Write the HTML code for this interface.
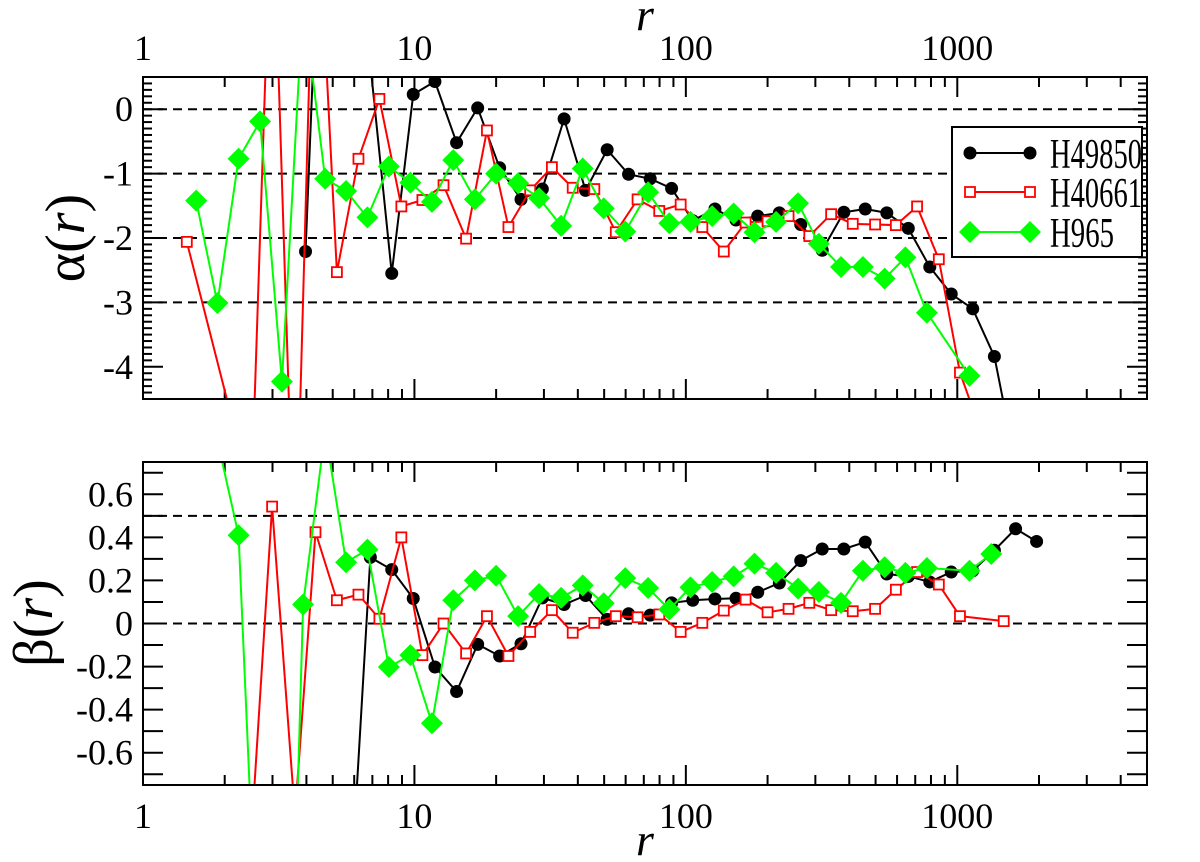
<!DOCTYPE html>
<html><head><meta charset="utf-8"><title>alpha beta profiles</title>
<style>
html,body{margin:0;padding:0;background:#fff;width:1200px;height:862px;overflow:hidden;}
svg{display:block;}
text{font-family:"Liberation Serif","Times New Roman",Times,"DejaVu Serif",serif;}
</style></head>
<body>
<svg id="chart" width="1200" height="862" viewBox="0 0 1200 862" xmlns="http://www.w3.org/2000/svg">
<defs>
<clipPath id="clipA"><rect x="143" y="77" width="1004" height="322"/></clipPath>
<clipPath id="clipB"><rect x="143" y="462" width="1004" height="323"/></clipPath>
</defs>
<rect width="1200" height="862" fill="#fff"/>
<g id="gridA"></g>
<g id="gridB"></g>
<g id="ticks"></g>
<g id="seriesA" clip-path="url(#clipA)"></g>
<g id="seriesB" clip-path="url(#clipB)"></g>
<rect x="143" y="77" width="1004" height="322" fill="none" stroke="#000" stroke-width="2"/>
<rect x="143" y="462" width="1004" height="323" fill="none" stroke="#000" stroke-width="2"/>
<g id="labels"></g>
<text class="t" x="645" y="30" font-size="46" font-style="italic" text-anchor="middle">r</text>
<text class="t" x="645" y="855" font-size="46" font-style="italic" text-anchor="middle">r</text>
<text class="t" transform="translate(84,238) rotate(-90)" font-size="56" text-anchor="middle">α(<tspan font-style="italic">r</tspan>)</text>
<text class="t" transform="translate(52,623) rotate(-90)" font-size="56" text-anchor="middle">β(<tspan font-style="italic">r</tspan>)</text>
<g id="legend">
<rect x="952" y="127" width="190" height="130" fill="#fff" stroke="#000" stroke-width="2"/>
</g>
</svg>
<script>
// ---- data ----
const blackR = [3.97,4.77,5.73,6.88,8.25,9.9,11.9,14.3,17.1,20.6,24.7,29.6,35.6,42.7,51.3,61.5,73.9,88.6,106,128,153,184,221,265,318,382,458,550,660,792,950,1140,1370,1640,1960];
const blackAlpha = [-2.21,6,4,0.7,-2.55,0.23,0.43,-0.52,0.02,-0.91,-1.40,-1.24,-0.15,-1.26,-0.63,-1.01,-1.08,-1.23,-1.73,-1.55,-1.72,-1.66,-1.61,-1.79,-2.19,-1.60,-1.55,-1.61,-1.85,-2.45,-2.87,-3.10,-3.84,-5.5,null];
const blackBeta = [-3,-3,-1.4,0.307,0.25,0.116,-0.202,-0.316,-0.097,-0.151,-0.094,0.119,0.088,0.130,0.019,0.045,0.039,0.096,0.108,0.114,0.117,0.145,0.188,0.292,0.346,0.346,0.378,0.230,0.219,0.193,0.239,0.245,0.34,0.44,0.381];

const redR = [1.45,2.51,2.99,3.63,4.32,5.18,6.22,7.43,8.95,10.7,12.8,15.5,18.5,22.2,26.7,32.1,38.3,46.0,55.2,66.4,79.8,95.7,115,138,166,200,239,285,343,412,498,594,711,855,1023,1483];
const redAlpha = [-2.06,-6,3.7,-7.5,4,-2.53,-0.77,0.16,-1.51,-1.41,-1.18,-2.01,-0.33,-1.83,-1.26,-0.90,-1.22,-1.24,-1.91,-1.40,-1.58,-1.48,-1.83,-2.21,-1.76,-1.74,-1.66,-1.97,-1.63,-1.78,-1.79,-1.80,-1.51,-2.33,-4.09,-6];
const redBeta = [-1.5,-0.97,0.543,-0.89,0.424,0.108,0.134,0.022,0.40,-0.147,0.0,-0.139,0.034,-0.151,-0.039,0.062,-0.043,0.003,0.034,0.029,0.042,-0.039,0.003,0.060,0.111,0.052,0.068,0.096,0.062,0.057,0.068,0.157,0.239,0.181,0.034,0.011];

const greenR = [1.57,1.88,2.25,2.70,3.25,3.89,4.69,5.60,6.71,8.05,9.66,11.6,13.9,16.7,20.0,24.1,28.8,34.7,41.7,49.8,59.8,72.6,86.9,104,125,150,179,215,259,309,373,449,540,644,773,1109,1334];
const greenAlpha = [-1.42,-3.01,-0.77,-0.19,-4.23,1.7,-1.08,-1.27,-1.68,-0.89,-1.14,-1.44,-0.79,-1.40,-1.00,-1.15,-1.38,-1.81,-0.92,-1.54,-1.90,-1.29,-1.77,-1.75,-1.66,-1.62,-1.91,-1.75,-1.46,-2.09,-2.45,-2.45,-2.63,-2.30,-3.16,-4.14,null];
const greenBeta = [1.5,0.85,0.41,-1.87,-3.3,0.088,0.895,0.284,0.343,-0.202,-0.147,-0.463,0.108,0.20,0.222,0.034,0.137,0.119,0.177,0.094,0.211,0.165,0.065,0.168,0.193,0.219,0.278,0.235,0.162,0.147,0.096,0.245,0.261,0.235,0.258,0.245,0.323];

const xTickValues = [1,10,100,1000];
const xTickLabels = ["1","10","100","1000"];
const alphaTickValues = [0,-1,-2,-3,-4];
const alphaTickLabels = ["0","-1","-2","-3","-4"];
const betaTickValues = [0.6,0.4,0.2,0,-0.2,-0.4,-0.6];
const betaTickLabels = ["0.6","0.4","0.2","0","-0.2","-0.4","-0.6"];
const alphaRefLines = [0,-1,-2,-3];
const betaRefLines = [0.5,0];
const seriesNames = ["H49850","H40661","H965"];

// ---- axes ----
const X0=143, X1=1147, XMAX=5000;
const AT=77, AB=399, AMAX=0.5, AMIN=-4.5;
const BT=462, BB=785, BMAX=0.75, BMIN=-0.75;
function xs(r){return X0+Math.log10(r)/Math.log10(XMAX)*(X1-X0);}
function yA(v){return AT+(AMAX-v)/(AMAX-AMIN)*(AB-AT);}
function yB(v){return BT+(BMAX-v)/(BMAX-BMIN)*(BB-BT);}

const SERIF='"Liberation Serif","Times New Roman",Times,"DejaVu Serif",serif';
const NS="http://www.w3.org/2000/svg";
function mk(tag,attrs,parent){const e=document.createElementNS(NS,tag);for(const k in attrs)e.setAttribute(k,attrs[k]);parent.appendChild(e);return e;}
document.querySelectorAll('text.t').forEach(t=>{t.style.fontFamily=SERIF;});

const gA=document.getElementById('gridA'), gB=document.getElementById('gridB');
alphaRefLines.forEach(v=>{
  const l=mk('line',{x1:X0,x2:X1,y1:yA(v),y2:yA(v),stroke:'#000','stroke-width':2,'stroke-dasharray':'9,6'},gA);
  
  
});
betaRefLines.forEach(v=>{
  const l=mk('line',{x1:X0,x2:X1,y1:yB(v),y2:yB(v),stroke:'#000','stroke-width':2,'stroke-dasharray':'9,6'},gB);
  
  
});

const gT=document.getElementById('ticks');
function tick(x1,y1,x2,y2){
  const l=mk('line',{x1:x1,y1:y1,x2:x2,y2:y2,stroke:'#000','stroke-width':2},gT);
  
  
}
for(let d=1; d<=1000; d*=10){
  for(let m=1;m<=9;m++){
    const r=d*m; if(r>XMAX) break;
    const x=xs(r), L=(m===1)?20:10;
    [[AT,AB],[BT,BB]].forEach(([t,b])=>{tick(x,t,x,t+L);tick(x,b,x,b-L);});
  }
}
for(let i=-45;i<=5;i++){
  const v=i/10, y=yA(v), L=(i%10===0)?20:9;
  tick(X0,y,X0+L,y); tick(X1,y,X1-L,y);
}
for(let i=-7;i<=7;i++){
  const v=i/10, y=yB(v), L=20;
  tick(X0,y,X0+L,y); tick(X1,y,X1-L,y);
}

const gL=document.getElementById('labels');
xTickValues.forEach((v,i)=>{
  const t1=mk('text',{x:xs(v),y:60,'font-size':36,'text-anchor':'middle'},gL);
  t1.style.fontFamily=SERIF;
  t1.textContent=xTickLabels[i];
  
  
  const t2=mk('text',{x:xs(v),y:828,'font-size':36,'text-anchor':'middle'},gL);
  t2.style.fontFamily=SERIF;
  t2.textContent=xTickLabels[i];
  
  
});
alphaTickValues.forEach((v,i)=>{
  const t=mk('text',{x:133,y:yA(v)+12,'font-size':36,'text-anchor':'end'},gL);
  t.style.fontFamily=SERIF;
  t.textContent=alphaTickLabels[i];
  
  
});
betaTickValues.forEach((v,i)=>{
  const t=mk('text',{x:133,y:yB(v)+12,'font-size':36,'text-anchor':'end'},gL);
  t.style.fontFamily=SERIF;
  t.textContent=betaTickLabels[i];
  
  
});

function marker(kind,x,y,parent){
  let e;
  if(kind==='circle') e=mk('circle',{cx:x,cy:y,r:6.5,fill:'#000'},parent);
  else if(kind==='square') e=mk('rect',{x:x-5,y:y-5,width:10,height:10,fill:'#fff',stroke:'#f00','stroke-width':1.8},parent);
  else e=mk('polygon',{points:`${x},${y-11} ${x+11},${y} ${x},${y+11} ${x-11},${y}`,fill:'#0f0'},parent);
  return e;
}
function drawSeries(parent,rs,vals,yf,color,kind,name){
  const g=mk('g',{},parent);
  
  
  let pts=[];
  rs.forEach((r,i)=>{ if(vals[i]!==null&&vals[i]!==undefined) pts.push([xs(r),yf(vals[i])]); });
  const p=mk('polyline',{points:pts.map(q=>q.join(',')).join(' '),fill:'none',stroke:color,'stroke-width':2,'stroke-linejoin':'round'},g);
  
  
  pts.forEach(q=>{
    const m=marker(kind,q[0],q[1],g);
    
    
  });
}
const sA=document.getElementById('seriesA'), sB=document.getElementById('seriesB');
drawSeries(sA,blackR,blackAlpha,yA,'#000','circle','alpha-h49850');
drawSeries(sA,redR,redAlpha,yA,'#f00','square','alpha-h40661');
drawSeries(sA,greenR,greenAlpha,yA,'#0f0','diamond','alpha-h965');
drawSeries(sB,blackR,blackBeta,yB,'#000','circle','beta-h49850');
drawSeries(sB,redR,redBeta,yB,'#f00','square','beta-h40661');
drawSeries(sB,greenR,greenBeta,yB,'#0f0','diamond','beta-h965');

const lg=document.getElementById('legend');
const legKinds=['circle','square','diamond'], legColors=['#000','#f00','#0f0'], legY=[153,192,232], legW=[92,92,64];
seriesNames.forEach((n,i)=>{
  const g=mk('g',{},lg);
  
  
  const l=mk('line',{x1:970,x2:1030,y1:legY[i],y2:legY[i],stroke:legColors[i],'stroke-width':2},g);
  
  
  const m1=marker(legKinds[i],970,legY[i],g);
  
  
  const m2=marker(legKinds[i],1030,legY[i],g);
  
  
  const t=mk('text',{x:1050,y:legY[i]+15,'font-size':42,textLength:legW[i],lengthAdjust:'spacingAndGlyphs'},g);
  t.style.fontFamily=SERIF;
  t.textContent=n;
  
  
});
</script>
</body></html>
